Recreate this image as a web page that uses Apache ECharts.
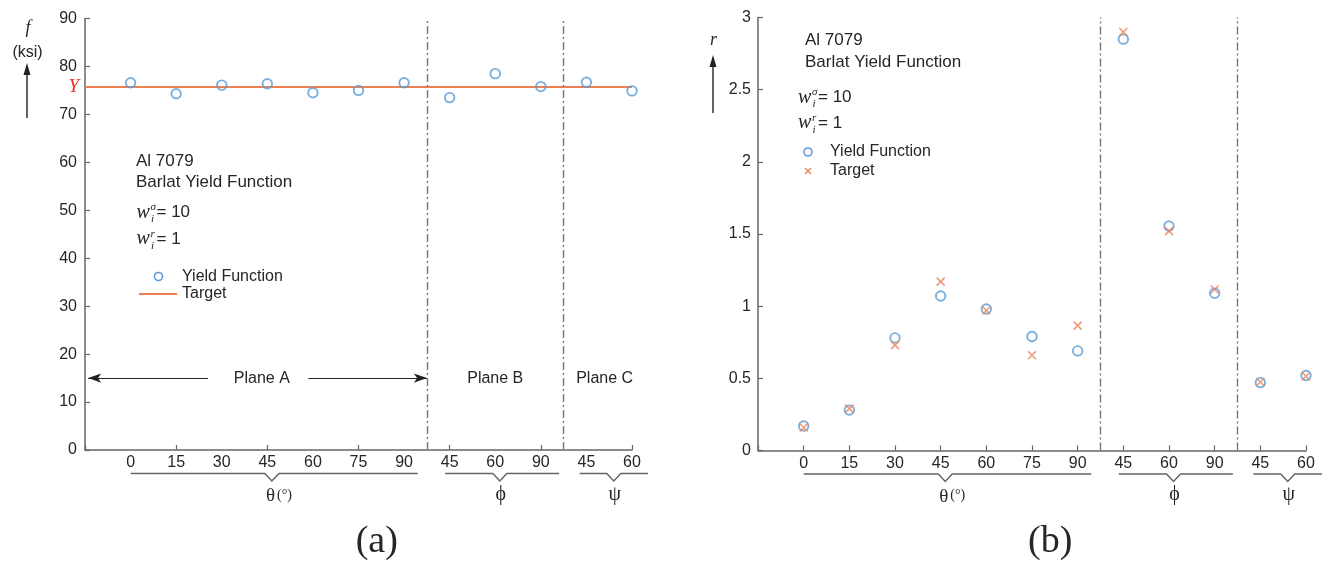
<!DOCTYPE html>
<html>
<head>
<meta charset="utf-8">
<script src="https://cdn.jsdelivr.net/npm/echarts@6/dist/echarts.min.js"></script>
<style>
  html, body { margin: 0; padding: 0; background: #fff; }
  #main { width: 1329px; height: 565px; }
</style>
</head>
<body>
<div id="main"></div>
<script>
// Orientation labels along the bottom axes (positions 1..12)
const tickLabels = ['0', '15', '30', '45', '60', '75', '90', '45', '60', '90', '45', '60'];
const groupNames = ['θ', 'ϕ', 'ψ'];
const planeNames = ['Plane A', 'Plane B', 'Plane C'];

// (a) flow stress f (ksi) predicted by the yield function, and the target yield stress Y
const stressYield = [76.6, 74.3, 76.1, 76.4, 74.5, 75.0, 76.6, 73.5, 78.5, 75.8, 76.7, 74.9];
const stressTarget = 75.7;

// (b) r-values: yield function prediction vs. target
const rYield  = [0.17, 0.28, 0.78, 1.07, 0.98, 0.79, 0.69, 2.85, 1.555, 1.09, 0.47, 0.52];
const rTarget = [0.16, 0.29, 0.73, 1.17, 0.97, 0.66, 0.865, 2.90, 1.52, 1.115, 0.475, 0.515];

// Plane separators (between orientation groups)
const planeBounds = [7.5, 10.5];

// Layout helpers: brace spans [start, end, notch] and plane label anchors in axis units
const braceSpans = [[1.0, 7.3, 4.1], [7.9, 10.4, 9.1], [10.85, 12.35, 11.6]];
const planeLabelX = [3.88, 9.0, 11.4];

const BLUE = '#5a9bd6';
const ORANGE = '#ec8052';
const AXIS = '#666';
const TEXT = '#262626';
const SANS = "'Liberation Sans', Arial, Helvetica, sans-serif";
const SERIF = "'Liberation Serif', 'DejaVu Serif', 'Times New Roman', serif";

const pts = arr => arr.map((v, i) => [i + 1, v]);
const crossPath = 'path://M0,0L10,10M10,0L0,10';

const chart = echarts.init(document.getElementById('main'));

const dashDot = { color: '#777', width: 1.4, type: [8, 3, 2, 3] };

function xLabelFmt(v) {
  const i = Math.round(v) - 1;
  return (i >= 0 && i < tickLabels.length && Math.abs(v - Math.round(v)) < 1e-6) ? tickLabels[i] : '';
}

const axisLabelStyle = { color: TEXT, fontSize: 16, fontFamily: SANS };

chart.setOption({
  animation: false,
  grid: [
    { left: 85, top: 18.5, width: 547, height: 431.5 },
    { left: 758, top: 17.5, width: 548, height: 433 }
  ],
  xAxis: [
    { gridIndex: 0, type: 'value', min: 0, max: 12, interval: 2, position: 'bottom',
      axisLine: { show: true, onZero: false, lineStyle: { color: AXIS, width: 1.5 } },
      axisTick: { show: true, inside: true, length: 5, lineStyle: { color: AXIS, width: 1.2 } },
      axisLabel: { show: false }, splitLine: { show: false } },
    { gridIndex: 0, type: 'value', min: 0, max: 12, interval: 1, position: 'bottom', offset: 0,
      axisLine: { show: false }, axisTick: { show: false }, splitLine: { show: false },
      axisLabel: Object.assign({ margin: 5, formatter: xLabelFmt, showMinLabel: true, showMaxLabel: true }, axisLabelStyle) },
    { gridIndex: 1, type: 'value', min: 0, max: 12, interval: 1, position: 'bottom',
      axisLine: { show: true, onZero: false, lineStyle: { color: AXIS, width: 1.5 } },
      axisTick: { show: true, inside: true, length: 5, lineStyle: { color: AXIS, width: 1.2 } },
      splitLine: { show: false },
      axisLabel: Object.assign({ margin: 5, formatter: xLabelFmt, showMinLabel: true, showMaxLabel: true }, axisLabelStyle) }
  ],
  yAxis: [
    { gridIndex: 0, type: 'value', min: 0, max: 90, interval: 10,
      axisLine: { show: true, onZero: false, lineStyle: { color: AXIS, width: 1.5 } },
      axisTick: { show: true, inside: true, length: 5, lineStyle: { color: AXIS, width: 1.2 } },
      splitLine: { show: false },
      axisLabel: Object.assign({ margin: 8 }, axisLabelStyle) },
    { gridIndex: 1, type: 'value', min: 0, max: 3, interval: 0.5,
      axisLine: { show: true, onZero: false, lineStyle: { color: AXIS, width: 1.5 } },
      axisTick: { show: true, inside: true, length: 5, lineStyle: { color: AXIS, width: 1.2 } },
      splitLine: { show: false },
      axisLabel: Object.assign({ margin: 7 }, axisLabelStyle) }
  ],
  series: [
    {
      name: 'Target', type: 'line', xAxisIndex: 0, yAxisIndex: 0,
      data: [[0, stressTarget], [12, stressTarget]],
      symbol: 'none', lineStyle: { color: ORANGE, width: 2 }, silent: true, z: 2,
      markLine: {
        silent: true, symbol: ['none', 'none'], label: { show: false },
        lineStyle: dashDot,
        data: planeBounds.map(b => ({ xAxis: b }))
      }
    },
    {
      name: 'Yield Function', type: 'scatter', xAxisIndex: 0, yAxisIndex: 0,
      data: pts(stressYield), symbol: 'circle', symbolSize: 9.5,
      itemStyle: { color: 'rgba(255,255,255,0)', borderColor: BLUE, borderWidth: 1.9 }, z: 3,
      markLine: {
        silent: true, label: { show: false }, symbolSize: [7, 13],
        lineStyle: { color: '#222', width: 1.2, type: 'solid' },
        data: [
          [{ coord: [0.07, 15], symbol: 'arrow' }, { coord: [2.7, 15], symbol: 'none' }],
          [{ coord: [4.9, 15], symbol: 'none' }, { coord: [7.5, 15], symbol: 'arrow' }]
        ]
      }
    },
    {
      name: 'Yield Function', type: 'scatter', xAxisIndex: 2, yAxisIndex: 1,
      data: pts(rYield), symbol: 'circle', symbolSize: 9.5,
      itemStyle: { color: 'rgba(255,255,255,0)', borderColor: BLUE, borderWidth: 1.9 }, z: 3,
      markLine: {
        silent: true, symbol: ['none', 'none'], label: { show: false },
        lineStyle: dashDot,
        data: planeBounds.map(b => ({ xAxis: b }))
      }
    },
    {
      name: 'Target', type: 'scatter', xAxisIndex: 2, yAxisIndex: 1,
      data: pts(rTarget), symbol: crossPath, symbolSize: 8,
      itemStyle: { color: 'none', borderColor: ORANGE, borderWidth: 1.5 }, z: 4
    }
  ]
});

// ---- annotations ----
const g = [];
const P0 = (x, y) => chart.convertToPixel({ xAxisIndex: 0, yAxisIndex: 0 }, [x, y]);
const P1 = (x, y) => chart.convertToPixel({ xAxisIndex: 2, yAxisIndex: 1 }, [x, y]);

function txt(text, x, y, opts) {
  const o = Object.assign({ size: 17, family: SANS, color: TEXT, align: 'left', valign: 'middle', style: 'normal' }, opts || {});
  g.push({
    type: 'text', silent: true, z: 10,
    style: {
      text: text, x: x, y: y, fill: o.color,
      fontSize: o.size, fontFamily: o.family, fontStyle: o.style,
      align: o.align, verticalAlign: o.valign,
      textAlign: o.align, textVerticalAlign: o.valign
    }
  });
}
function line(x1, y1, x2, y2, color, w) {
  g.push({ type: 'line', silent: true, z: 10, shape: { x1, y1, x2, y2 }, style: { stroke: color, lineWidth: w } });
}
function upArrow(x, yBottom, yTip) {
  line(x, yBottom, x, yTip + 10, '#222', 1.4);
  g.push({ type: 'polygon', silent: true, z: 10,
    shape: { points: [[x, yTip], [x - 3.5, yTip + 12], [x + 3.5, yTip + 12]] },
    style: { fill: '#222' } });
}
function wLine(x, yc, sup, rest) {
  txt('w', x, yc, { family: SERIF, style: 'italic', size: 20 });
  txt(sup, x + 14, yc - 5, { family: SERIF, style: 'italic', size: 11, align: 'left' });
  txt('i', x + 14.5, yc + 7, { family: SERIF, style: 'italic', size: 11, align: 'left' });
  txt(rest, x + 20, yc, { size: 17 });
}
function textBlock(x, yTop) {
  txt('Al 7079', x, yTop, {});
  txt('Barlat Yield Function', x, yTop + 21.5, {});
}
function braces(P, yAxisPx) {
  braceSpans.forEach((s, i) => {
    const a = P(s[0], 0)[0], b = P(s[1], 0)[0], m = P(s[2], 0)[0];
    const y = yAxisPx + 23.5;
    g.push({ type: 'polyline', silent: true, z: 10,
      shape: { points: [[a, y], [m - 7, y], [m, y + 7.5], [m + 7, y], [b, y]] },
      style: { stroke: '#666', lineWidth: 1.5, fill: null } });
    if (i === 0) {
      g.push({ type: 'text', silent: true, z: 10,
        style: {
          x: m - 6, y: y + 23, text: '{t|θ}{d|(°)}', align: 'left', verticalAlign: 'middle',
          textAlign: 'left', textVerticalAlign: 'middle',
          rich: {
            t: { fontFamily: SERIF, fontSize: 19, fill: TEXT, color: TEXT },
            d: { fontFamily: SERIF, fontSize: 14, fill: TEXT, color: TEXT, padding: [0, 0, 3, 2] }
          }
        } });
    } else {
      txt(groupNames[i], m + 1, y + 21, { family: SERIF, size: 20, align: 'center' });
    }
  });
}

// (a) panel
const yAx0 = P0(0, 0)[1];
txt('f', 28, 28, { family: SERIF, style: 'italic', size: 18, align: 'center' });
txt('(ksi)', 27.5, 52.5, { size: 16, align: 'center' });
upArrow(27, 118, 63);
txt('Y', 79, P0(0, stressTarget)[1], { family: SERIF, style: 'italic', size: 19, color: '#e8342a', align: 'right' });
textBlock(136, 161);
wLine(136.5, 212.5, 'σ', '= 10');
wLine(136.5, 239, 'r', '= 1');
g.push({ type: 'circle', silent: true, z: 10, shape: { cx: 158.5, cy: 276.5, r: 4 }, style: { fill: null, stroke: BLUE, lineWidth: 1.6 } });
txt('Yield Function', 182, 276.5, { size: 16 });
line(139, 294, 177, 294, ORANGE, 2);
txt('Target', 182, 294, { size: 16 });
planeNames.forEach((n, i) => {
  const p = P0(planeLabelX[i], 15);
  txt(n, p[0], p[1] + 1, { size: 16, align: 'center' });
});
braces(P0, yAx0);
txt('(a)', P0(6.4, 0)[0], 542, { family: SERIF, size: 38, align: 'center' });

// (b) panel
const yAx1 = P1(0, 0)[1];
txt('r', 713.5, 40, { family: SERIF, style: 'italic', size: 18, align: 'center' });
upArrow(713, 113, 55);
textBlock(805, 40.7);
wLine(798, 97.5, 'σ', '= 10');
wLine(798, 123, 'r', '= 1');
g.push({ type: 'circle', silent: true, z: 10, shape: { cx: 808, cy: 152, r: 4 }, style: { fill: null, stroke: BLUE, lineWidth: 1.6 } });
txt('Yield Function', 830, 152, { size: 16 });
line(805, 168, 811, 174, ORANGE, 1.3);
line(811, 168, 805, 174, ORANGE, 1.3);
txt('Target', 830, 171, { size: 16 });
braces(P1, yAx1);
txt('(b)', P1(6.4, 0)[0], 542, { family: SERIF, size: 38, align: 'center' });

chart.setOption({ graphic: g });
</script>
</body>
</html>
